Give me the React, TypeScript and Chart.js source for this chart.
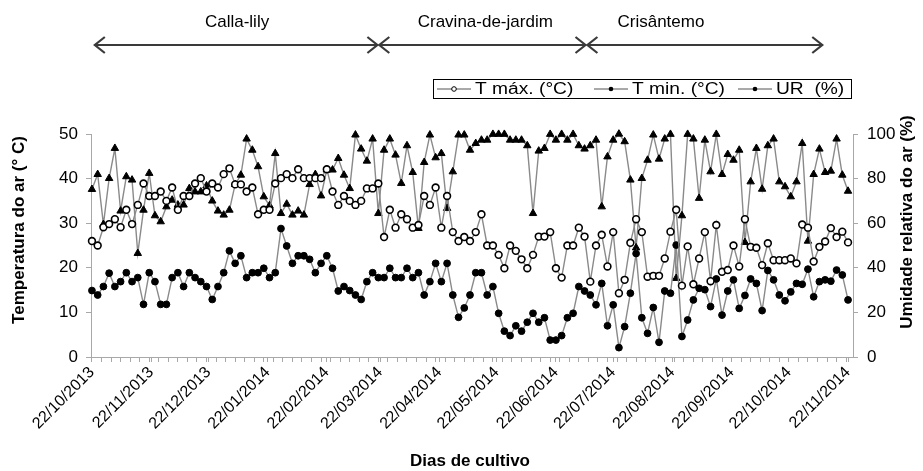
import React, { useEffect, useRef } from "react";
import { Chart, registerables } from "chart.js";

Chart.register(...registerables);

// sampling days (offset from 22/10/2013)
const dayOffsets = [
  0, 3, 6, 9, 12, 15, 18, 21, 24, 27, 30, 33, 36, 39, 42, 45, 48, 51, 54, 57, 60, 63, 66,
  69, 72, 75, 78, 81, 84, 87, 90, 93, 96, 99, 102, 105, 108, 111, 114, 117, 120, 123, 126, 129, 132,
  135, 138, 141, 144, 147, 150, 153, 156, 159, 162, 165, 168, 171, 174, 177, 180, 183, 186, 189, 192, 195, 198, 201,
  204, 207, 210, 213, 216, 219, 222, 225, 228, 231, 234, 237, 240, 243, 246, 249, 252, 255, 258, 261, 264, 267, 270,
  273, 276, 279, 282, 285, 288, 291, 294, 297, 300, 303, 306, 309, 312, 315, 318, 321, 324, 327, 330, 333, 336, 339,
  342, 345, 348, 351, 354, 357, 360, 363, 366, 369, 372, 375, 378, 381, 384, 387, 390, 393, 396,
];

const tMax = [
  26.0, 25.0, 29.1, 29.8, 30.9, 29.1, 33.0, 29.8, 34.1, 38.9, 36.1, 36.1, 37.1, 35.0, 38.0, 33.0, 36.1, 36.1, 38.9, 40.1, 37.1, 38.9, 38.0,
  41.0, 42.3, 38.7, 38.7, 37.1, 38.0, 32.0, 33.0, 33.0, 38.9, 40.1, 41.0, 40.1, 42.1, 40.1, 40.1, 40.1, 40.1, 42.1, 37.1, 34.1, 36.1,
  35.0, 34.1, 35.0, 37.8, 37.8, 38.9, 26.9, 33.0, 29.0, 32.0, 30.9, 29.0, 29.6, 36.1, 34.1, 38.0, 29.0, 36.1, 28.0, 26.0, 26.9, 26.0, 28.0,
  32.0, 25.0, 25.0, 22.9, 19.9, 25.0, 23.8, 21.9, 19.9, 22.9, 27.0, 27.0, 28.0, 19.9, 17.8, 25.0, 25.0, 29.0, 27.0, 16.9, 25.0, 27.4, 20.3,
  28.0, 14.3, 17.3, 25.6, 30.9, 28.0, 18.0, 18.2, 18.2, 22.1, 28.1, 33.0, 16.0, 24.8, 16.3, 22.1, 28.0, 17.0, 29.6, 19.1, 19.5, 25.0, 20.3,
  30.9, 24.7, 24.5, 20.6, 25.5, 21.7, 21.7, 21.7, 22.1, 21.0, 29.7, 29.0, 21.4, 24.7, 25.9, 28.9, 26.9, 28.1, 25.7,
];

const tMin = [
  14.9, 13.9, 15.8, 18.8, 15.8, 16.9, 18.9, 16.9, 17.8, 11.8, 18.9, 16.9, 11.8, 11.8, 17.8, 18.9, 15.8, 18.9, 17.8, 16.9, 15.8, 12.9, 15.8,
  18.9, 23.8, 21.0, 22.7, 17.8, 18.9, 18.9, 19.9, 17.8, 18.9, 28.8, 24.9, 21.0, 22.7, 22.7, 21.9, 18.9, 21.0, 22.7, 19.9, 14.8, 15.8,
  14.9, 13.9, 12.9, 16.9, 18.9, 17.8, 17.8, 19.9, 17.8, 17.8, 19.9, 17.8, 18.9, 13.9, 16.9, 21.0, 16.9, 21.0, 13.9, 8.9, 11.0, 13.9, 18.9,
  18.9, 13.9, 15.8, 9.8, 5.8, 4.8, 7.0, 5.8, 7.8, 9.8, 7.8, 8.8, 3.8, 3.8, 4.8, 8.8, 9.8, 15.8, 14.8, 13.9, 11.7, 16.5, 7.0,
  11.7, 2.1, 6.8, 14.3, 23.2, 8.8, 5.3, 11.1, 3.3, 14.8, 14.3, 25.1, 4.6, 8.3, 12.8, 15.4, 15.1, 11.3, 17.5, 9.4, 14.8, 17.3, 10.9,
  13.8, 17.5, 16.5, 10.4, 19.4, 17.3, 13.9, 12.6, 14.6, 16.5, 16.3, 19.7, 13.5, 16.9, 17.3, 17.0, 19.5, 18.4, 12.8,
];

const ur = [
  75.2, 81.9, 59.5, 80.1, 93.6, 65.5, 80.9, 79.4, 46.5, 65.9, 82.4, 63.4, 60.7, 67.4, 70.4, 68.2, 68.2, 75.6, 74.1, 74.1, 76.8, 70.0, 65.5,
  63.7, 65.9, 77.4, 81.6, 97.8, 92.8, 85.4, 71.9, 67.9, 91.3, 64.4, 68.6, 63.7, 65.5, 63.7, 77.4, 81.9, 72.3, 83.9, 83.9, 89.1, 81.6,
  75.6, 99.6, 93.3, 87.9, 97.8, 64.4, 92.8, 97.8, 90.6, 77.9, 94.8, 82.8, 57.7, 87.3, 99.6, 89.4, 91.3, 66.7, 83.1, 99.6, 99.6, 92.8, 95.8,
  97.3, 97.3, 99.9, 99.9, 99.9, 97.3, 97.3, 97.3, 94.8, 64.4, 92.4, 93.6, 99.9, 97.3, 99.9, 97.3, 99.9, 94.8, 93.3, 94.8, 97.3, 67.4, 89.8,
  97.3, 100.0, 96.6, 79.4, 49.0, 80.1, 88.3, 99.6, 88.8, 97.8, 99.9, 35.3, 63.4, 99.9, 97.8, 71.2, 97.3, 83.1, 99.9, 81.9, 90.9, 88.3, 92.8,
  51.4, 78.6, 93.6, 75.3, 94.8, 97.8, 78.6, 76.4, 71.9, 78.6, 95.8, 52.0, 81.9, 93.3, 82.8, 83.4, 97.8, 81.6, 74.4,
];

const monthDays = [0, 31, 61, 92, 123, 151, 182, 212, 243, 273, 304, 335, 365, 396];
const monthLabels = [
  "22/10/2013", "22/11/2013", "22/12/2013", "22/01/2014", "22/02/2014", "22/03/2014", "22/04/2014",
  "22/05/2014", "22/06/2014", "22/07/2014", "22/08/2014", "22/09/2014", "22/10/2014", "22/11/2014",
];

const phaseNames = ["Calla-lily", "Cravina-de-jardim", "Crisântemo"];
const phaseStart = [1.5, 150.5, 259.5];
const phaseEnd = [149.5, 258.5, 382.5];
const phaseLabelDay = [76, 206, 298];

const legendLabels = ["T máx. (°C)", "T min. (°C)", "UR  (%)"];

const FONT = '"Liberation Sans", Arial, Helvetica, sans-serif';
const LINE_GREY = "#8a8a8a";
const AXIS_GREY = "#a8a8a8";

function drawChevron(ctx: CanvasRenderingContext2D, x: number, y: number, dir: number) {
  ctx.beginPath();
  ctx.moveTo(x - dir * 10, y - 8);
  ctx.lineTo(x, y);
  ctx.lineTo(x - dir * 10, y + 8);
  ctx.stroke();
}

function stretchedText(ctx: CanvasRenderingContext2D, text: string, x: number, y: number, sx: number) {
  ctx.save();
  ctx.translate(x, y);
  ctx.scale(sx, 1);
  ctx.fillText(text, 0, 0);
  ctx.restore();
}

const decorPlugin = {
  id: "decor",
  afterDraw(chart: any) {
    const ctx: CanvasRenderingContext2D = chart.ctx;
    const xs = chart.scales.x;
    ctx.save();
    // phase labels and arrows
    ctx.fillStyle = "#000";
    ctx.font = `17px ${FONT}`;
    ctx.textAlign = "center";
    ctx.textBaseline = "alphabetic";
    ctx.strokeStyle = "#3a3a3a";
    ctx.lineWidth = 2.2;
    phaseNames.forEach((name, i) => {
      const a = xs.getPixelForValue(phaseStart[i]);
      const b = xs.getPixelForValue(phaseEnd[i]);
      ctx.fillText(name, xs.getPixelForValue(phaseLabelDay[i]), 27);
      ctx.beginPath();
      ctx.moveTo(a, 45);
      ctx.lineTo(b, 45);
      ctx.stroke();
      drawChevron(ctx, a, 45, -1);
      drawChevron(ctx, b, 45, 1);
    });

    // legend
    const bx = 433, by = 79, bw = 418, bh = 19;
    ctx.strokeStyle = "#000";
    ctx.lineWidth = 1;
    ctx.strokeRect(bx + 0.5, by + 0.5, bw, bh);
    ctx.font = `16px ${FONT}`;
    ctx.textAlign = "left";
    ctx.textBaseline = "middle";
    const cy = by + bh / 2 + 0.5;
    const itemX = [437, 594, 738];
    legendLabels.forEach((lab, i) => {
      const x0 = itemX[i];
      ctx.strokeStyle = "#555";
      ctx.lineWidth = 1.2;
      ctx.beginPath();
      ctx.moveTo(x0, cy);
      ctx.lineTo(x0 + 34, cy);
      ctx.stroke();
      ctx.beginPath();
      ctx.arc(x0 + 17, cy, 2.3, 0, Math.PI * 2);
      if (i === 0) {
        ctx.fillStyle = "#fff";
        ctx.fill();
        ctx.strokeStyle = "#000";
        ctx.lineWidth = 1;
        ctx.stroke();
      } else {
        ctx.fillStyle = "#000";
        ctx.fill();
      }
      ctx.fillStyle = "#000";
      stretchedText(ctx, lab, x0 + 38, cy + 1, 1.2);
    });

    // axis titles
    ctx.font = `bold 17px ${FONT}`;
    ctx.textAlign = "center";
    ctx.textBaseline = "middle";
    ctx.fillText("Dias de cultivo", 470, 461);
    ctx.save();
    ctx.translate(19, 230);
    ctx.rotate(-Math.PI / 2);
    ctx.fillText("Temperatura do ar (° C)", 0, 0);
    ctx.restore();
    ctx.save();
    ctx.translate(907, 222);
    ctx.rotate(-Math.PI / 2);
    ctx.fillText("Umidade relativa do ar (%)", 0, 0);
    ctx.restore();
    ctx.restore();
  },
};

export default function App() {
  const ref = useRef<HTMLCanvasElement | null>(null);
  useEffect(() => {
    if (!ref.current) return;
    const tickSet = new Set<number>(monthDays);
    for (let d = 0; d <= 395; d += 5) tickSet.add(d);
    const tickDays = Array.from(tickSet).sort((a, b) => a - b);

    const pts = (arr: number[]) => dayOffsets.map((d, i) => ({ x: d, y: arr[i] }));

    const chart = new Chart(ref.current, {
      type: "line",
      data: {
        datasets: [
          {
            label: legendLabels[0],
            data: pts(tMax),
            yAxisID: "y",
            borderColor: LINE_GREY,
            borderWidth: 1.4,
            pointStyle: "circle",
            pointRadius: 3.4,
            pointBackgroundColor: "#fff",
            pointBorderColor: "#000",
            pointBorderWidth: 1.6,
            tension: 0,
            clip: false,
          },
          {
            label: legendLabels[1],
            data: pts(tMin),
            yAxisID: "y",
            borderColor: LINE_GREY,
            borderWidth: 1.4,
            pointStyle: "circle",
            pointRadius: 3.4,
            pointBackgroundColor: "#000",
            pointBorderColor: "#000",
            pointBorderWidth: 1,
            tension: 0,
            clip: false,
          },
          {
            label: legendLabels[2],
            data: pts(ur),
            yAxisID: "y1",
            borderColor: LINE_GREY,
            borderWidth: 1.4,
            pointStyle: "triangle",
            pointRadius: 4.3,
            pointBackgroundColor: "#000",
            pointBorderColor: "#000",
            pointBorderWidth: 1,
            tension: 0,
            clip: false,
          },
        ],
      },
      options: {
        animation: false,
        responsive: false,
        maintainAspectRatio: false,
        layout: { padding: { top: 134, left: 0, right: 0, bottom: 0 } },
        plugins: { legend: { display: false }, tooltip: { enabled: false } },
        scales: {
          x: {
            type: "linear",
            min: -0.5,
            max: 398.6,
            afterBuildTicks: (s: any) => {
              s.ticks = tickDays.map((v) => ({ value: v }));
            },
            afterFit: (s: any) => {
              s.height = 114;
            },
            ticks: {
              autoSkip: false,
              minRotation: 45,
              maxRotation: 45,
              padding: 1,
              color: "#000",
              font: { family: FONT, size: 16 },
              callback: (v: any) => {
                const k = monthDays.indexOf(Number(v));
                return k >= 0 ? monthLabels[k] : "";
              },
            },
            grid: { drawOnChartArea: false, drawTicks: true, tickLength: 5, color: AXIS_GREY },
            border: { display: true, color: AXIS_GREY },
          },
          y: {
            position: "left",
            min: 0,
            max: 50,
            afterFit: (s: any) => {
              s.width = 91;
            },
            ticks: {
              stepSize: 5,
              padding: 8,
              color: "#000",
              font: { family: FONT, size: 17 },
              callback: (v: any) => (Number(v) % 10 === 0 ? String(v) : ""),
            },
            grid: { drawOnChartArea: false, drawTicks: true, tickLength: 5, color: AXIS_GREY },
            border: { display: true, color: AXIS_GREY },
          },
          y1: {
            position: "right",
            min: 0,
            max: 100,
            afterFit: (s: any) => {
              s.width = 70;
            },
            ticks: {
              stepSize: 10,
              padding: 9,
              color: "#000",
              font: { family: FONT, size: 17 },
              callback: (v: any) => (Number(v) % 20 === 0 ? String(v) : ""),
            },
            grid: { drawOnChartArea: false, drawTicks: true, tickLength: 5, color: AXIS_GREY },
            border: { display: true, color: AXIS_GREY },
          },
        },
      },
      plugins: [decorPlugin],
    });
    return () => chart.destroy();
  }, []);

  return (
    <div style={{ position: "absolute", left: 0, top: 0, width: 923, height: 471, background: "#fff" }}>
      <canvas ref={ref} width={923} height={471} style={{ width: 923, height: 471, display: "block" }} />
    </div>
  );
}
